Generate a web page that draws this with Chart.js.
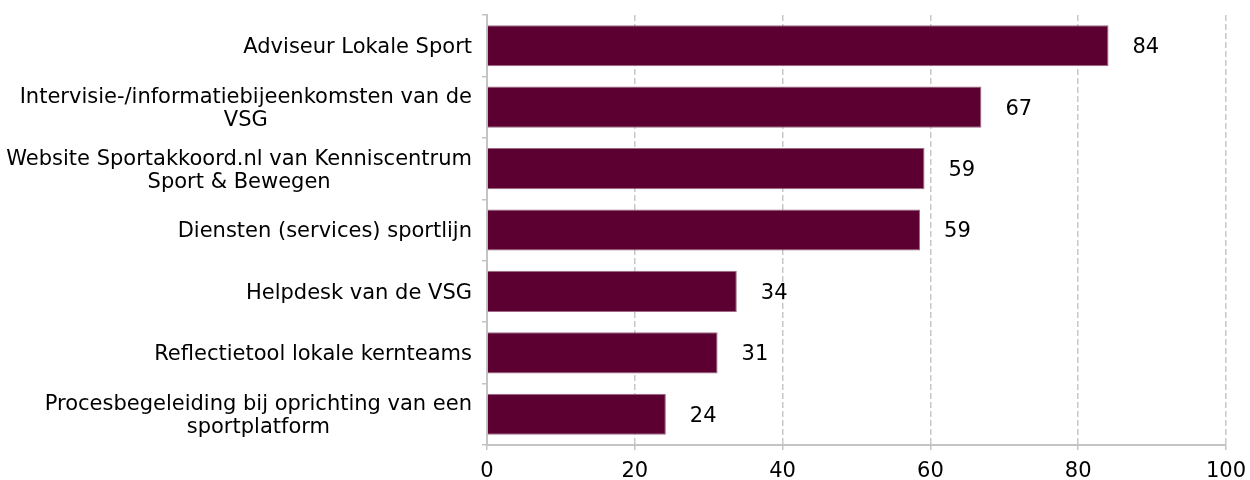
<!DOCTYPE html>
<html>
<head>
<meta charset="utf-8">
<script src="https://cdn.jsdelivr.net/npm/chart.js@4/dist/chart.umd.min.js"></script>
<style>
html,body{margin:0;padding:0;background:#fff;}
#wrap{width:1250px;height:480px;position:relative;}
</style>
</head>
<body>
<div id="wrap"><canvas id="c"></canvas></div>
<script>
const categories = [
  ["Adviseur Lokale Sport"],
  ["Intervisie-/informatiebijeenkomsten van de", "VSG"],
  ["Website Sportakkoord.nl van Kenniscentrum", "Sport & Bewegen"],
  ["Diensten (services) sportlijn"],
  ["Helpdesk van de VSG"],
  ["Reflectietool lokale kernteams"],
  ["Procesbegeleiding bij oprichting van een", "sportplatform"]
];
const values = [84.1, 66.9, 59.2, 58.6, 33.8, 31.2, 24.2];
const xTicks = [0, 20, 40, 60, 80, 100];

const FONT = '"DejaVu Sans", Verdana, sans-serif';
const BAR = '#5b0030';

const yLabelPlugin = {
  id: 'yLabels',
  afterDraw(chart) {
    const ctx = chart.ctx;
    const ys = chart.scales.y;
    const right = chart.chartArea.left - 15;
    const lh = 23;
    ctx.save();
    ctx.font = '21px ' + FONT;
    ctx.fillStyle = '#000';
    ctx.textBaseline = 'middle';
    ctx.textAlign = 'center';
    categories.forEach((lines, i) => {
      const cy = ys.getPixelForValue(i) + 2;
      const w = Math.max(...lines.map(l => ctx.measureText(l).width));
      const cx = right - w / 2;
      const y0 = cy - (lines.length - 1) * lh / 2;
      lines.forEach((l, j) => ctx.fillText(l, cx, y0 + j * lh));
    });
    ctx.restore();
  }
};

const valueLabelPlugin = {
  id: 'valueLabels',
  afterDatasetsDraw(chart) {
    const ctx = chart.ctx;
    const meta = chart.getDatasetMeta(0);
    ctx.save();
    ctx.font = '21px ' + FONT;
    ctx.fillStyle = '#000';
    ctx.textBaseline = 'middle';
    ctx.textAlign = 'left';
    meta.data.forEach((bar, i) => {
      ctx.fillText(String(Math.round(values[i])), bar.x + 24, bar.y + 2);
    });
    ctx.restore();
  }
};

new Chart(document.getElementById('c'), {
  type: 'bar',
  data: {
    labels: categories.map(l => l.join(' ')),
    datasets: [{
      data: values,
      backgroundColor: BAR,
      borderColor: '#9a6a82',
      borderWidth: 1,
      barPercentage: 0.67,
      categoryPercentage: 1.0
    }]
  },
  options: {
    indexAxis: 'y',
    responsive: true,
    maintainAspectRatio: false,
    animation: false,
    layout: { padding: { top: 15, right: 24, bottom: 0, left: 0 } },
    plugins: { legend: { display: false }, tooltip: { enabled: false } },
    scales: {
      x: {
        min: 0, max: 100,
        afterBuildTicks(scale) { scale.ticks = xTicks.map(v => ({ value: v })); },
        afterFit(scale) { scale.height = 35; scale.paddingRight = 0; scale.paddingLeft = 0; },
        grid: {
          color: '#c8c8c8',
          lineWidth: 1.5,
          drawTicks: true,
          tickLength: 5,
          tickColor: '#c4c4c4'
        },
        border: { display: true, color: '#c4c4c4', width: 2, dash: [6, 3] },
        ticks: {
          color: '#000',
          font: { family: FONT, size: 21 },
          padding: 9,
          maxRotation: 0
        }
      },
      y: {
        offset: true,
        afterFit(scale) { scale.width = 487; scale.paddingTop = 0; scale.paddingBottom = 0; },
        grid: {
          offset: true,
          drawOnChartArea: false,
          drawTicks: true,
          tickLength: 5,
          color: '#c4c4c4',
          tickColor: '#c4c4c4',
          lineWidth: 1.5
        },
        border: { display: true, color: '#c4c4c4', width: 2 },
        ticks: { display: false }
      }
    }
  },
  plugins: [yLabelPlugin, valueLabelPlugin]
});
</script>
</body>
</html>
